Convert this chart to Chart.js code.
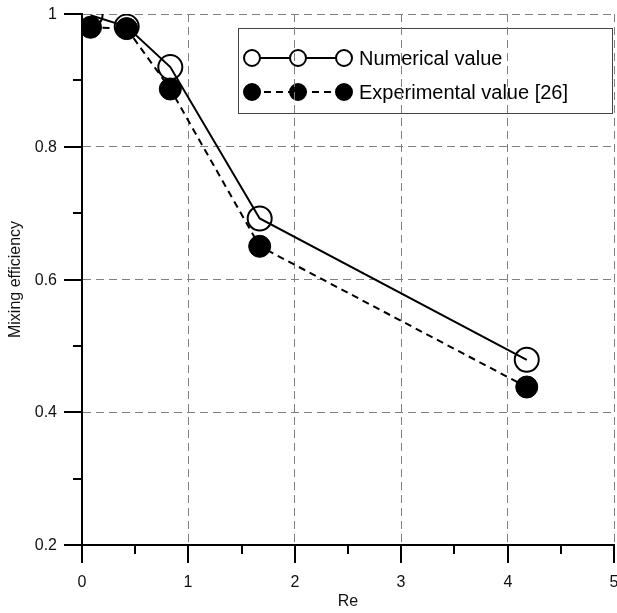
<!DOCTYPE html>
<html>
<head>
<meta charset="utf-8">
<script src="https://cdn.jsdelivr.net/npm/chart.js@4.4.0/dist/chart.umd.min.js"></script>
<style>
  html, body { margin: 0; padding: 0; background: #fff; }
  #wrap { width: 617px; height: 613px; }
</style>
</head>
<body>
<div id="wrap"><canvas id="chart"></canvas></div>
<script>
// Data
const reValues = [0.08, 0.42, 0.83, 1.67, 4.18];
const numericalValues = [0.998, 0.981, 0.920, 0.692, 0.479];
const experimentalValues = [0.980, 0.978, 0.887, 0.650, 0.438];
const seriesLabels = ['Numerical value', 'Experimental value [26]'];
const xTitle = 'Re';
const yTitle = 'Mixing efficiency';

const FONT = '"Liberation Sans", Arial, sans-serif';

function toPoints(xs, ys) {
    return xs.map((x, i) => ({ x: x, y: ys[i] }));
}

function isMajorX(v) {
    return Math.abs(v - Math.round(v)) < 1e-6;
}

function isMajorY(v) {
    return Math.round(v * 10) % 2 === 0;
}

// Legend is drawn before the grid (grid shows through it, like the original);
// tick marks, tick labels and axis titles are drawn after everything.
const decorPlugin = {
    id: 'decor',
    beforeDraw(chart) {
        const ctx = chart.ctx;
        ctx.save();
        const bx = 238, by = 28, bw = 374, bh = 85;
        ctx.fillStyle = '#fff';
        ctx.fillRect(bx, by, bw, bh);
        ctx.strokeStyle = '#444';
        ctx.lineWidth = 1;
        ctx.strokeRect(bx + 0.5, by + 0.5, bw, bh);

        const rows = [58, 92];
        const x0 = 252, x1 = 344;
        chart.data.datasets.forEach((ds, i) => {
            const y = rows[i];
            ctx.strokeStyle = '#000';
            ctx.lineWidth = 2;
            ctx.setLineDash(ds.borderDash || []);
            ctx.beginPath();
            ctx.moveTo(x0, y);
            ctx.lineTo(x1, y);
            ctx.stroke();
            ctx.setLineDash([]);
            [x0, (x0 + x1) / 2, x1].forEach(px => {
                ctx.beginPath();
                ctx.arc(px, y, ds.legendRadius, 0, Math.PI * 2);
                ctx.fillStyle = ds.legendFill;
                ctx.fill();
                ctx.lineWidth = 2;
                ctx.strokeStyle = '#000';
                ctx.stroke();
            });
            ctx.fillStyle = '#000';
            ctx.font = '20px ' + FONT;
            ctx.textAlign = 'left';
            ctx.textBaseline = 'middle';
            ctx.fillText(ds.label, 359, y + 1);
        });
        ctx.restore();
    },
    afterDraw(chart) {
        const ctx = chart.ctx;
        const xs = chart.scales.x;
        const ys = chart.scales.y;
        const area = chart.chartArea;
        ctx.save();
        ctx.setLineDash([]);
        ctx.strokeStyle = '#000';
        ctx.lineWidth = 2;
        ctx.fillStyle = '#111';
        ctx.font = '16px ' + FONT;

        // x ticks, pointing down
        ctx.textAlign = 'center';
        ctx.textBaseline = 'middle';
        xs.ticks.forEach(t => {
            const px = Math.round(xs.getPixelForValue(t.value));
            const major = isMajorX(t.value);
            ctx.beginPath();
            ctx.moveTo(px, area.bottom);
            ctx.lineTo(px, area.bottom + (major ? 18 : 9));
            ctx.stroke();
            if (major) ctx.fillText(String(Math.round(t.value)), px, 583);
        });

        // y ticks, pointing left
        ctx.textAlign = 'right';
        ys.ticks.forEach(t => {
            const py = Math.round(ys.getPixelForValue(t.value));
            const major = isMajorY(t.value);
            ctx.beginPath();
            ctx.moveTo(area.left, py);
            ctx.lineTo(area.left - (major ? 18 : 9), py);
            ctx.stroke();
            if (major) ctx.fillText(String(parseFloat(t.value.toFixed(1))), 57, py + 1);
        });

        // axis titles
        ctx.font = '16px ' + FONT;
        ctx.textAlign = 'center';
        ctx.fillText(xTitle, (area.left + area.right) / 2, 602);
        ctx.translate(16, (area.top + area.bottom) / 2);
        ctx.rotate(-Math.PI / 2);
        ctx.fillText(yTitle, 0, 0);
        ctx.restore();
    }
};

new Chart(document.getElementById('chart'), {
    type: 'line',
    data: {
        datasets: [
            {
                label: seriesLabels[0],
                data: toPoints(reValues, numericalValues),
                borderColor: '#000',
                borderWidth: 2,
                pointRadius: 12,
                pointBorderWidth: 2,
                pointBackgroundColor: 'rgba(255,255,255,0)',
                pointBorderColor: '#000',
                legendRadius: 8,
                legendFill: '#fff',
                tension: 0,
                fill: false
            },
            {
                label: seriesLabels[1],
                data: toPoints(reValues, experimentalValues),
                borderColor: '#000',
                borderWidth: 2,
                borderDash: [7, 5],
                pointRadius: 11,
                pointBorderWidth: 1,
                pointBackgroundColor: '#000',
                pointBorderColor: '#000',
                legendRadius: 8,
                legendFill: '#000',
                tension: 0,
                fill: false
            }
        ]
    },
    options: {
        responsive: true,
        maintainAspectRatio: false,
        animation: false,
        events: [],
        layout: { autoPadding: false, padding: { top: 14, right: 3, left: 0, bottom: 0 } },
        plugins: {
            legend: { display: false },
            tooltip: { enabled: false }
        },
        scales: {
            x: {
                type: 'linear',
                min: 0,
                max: 5,
                ticks: { display: false, stepSize: 0.5 },
                grid: {
                    drawTicks: false,
                    color: ctx => (isMajorX(ctx.tick.value) && ctx.tick.value > 0) ? '#808080' : 'rgba(0,0,0,0)',
                    lineWidth: 1
                },
                border: { display: true, color: '#000', width: 2, dash: [8, 5] },
                afterFit: scale => { scale.height = 68; }
            },
            y: {
                type: 'linear',
                min: 0.2,
                max: 1,
                ticks: { display: false, stepSize: 0.1 },
                grid: {
                    drawTicks: false,
                    color: ctx => (isMajorY(ctx.tick.value) && ctx.tick.value > 0.25) ? '#808080' : 'rgba(0,0,0,0)',
                    lineWidth: 1
                },
                border: { display: true, color: '#000', width: 2, dash: [8, 5] },
                afterFit: scale => { scale.width = 82; }
            }
        }
    },
    plugins: [decorPlugin]
});
</script>
</body>
</html>
